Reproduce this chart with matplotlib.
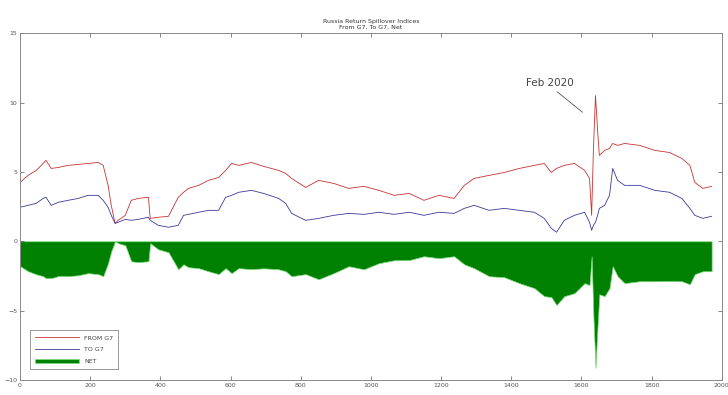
import numpy as np
import matplotlib
matplotlib.use("Agg")
import matplotlib.pyplot as plt

obs = [0, 23, 46, 66, 74, 89, 109, 137, 166, 194, 223, 237, 251, 260, 271, 280,
       300, 317, 337, 366, 371, 394, 423, 451, 466, 480, 509, 537, 566, 586, 603,
       623, 660, 694, 737, 757, 774, 814, 851, 894, 937, 980, 1023, 1066, 1109,
       1151, 1194, 1237, 1266, 1294, 1337, 1380, 1423, 1466, 1494, 1514, 1529,
       1551, 1580, 1609, 1623, 1629, 1634, 1640, 1646, 1651, 1666, 1680, 1689,
       1703, 1723, 1766, 1809, 1851, 1886, 1909, 1923, 1946, 1971]

from_g7 = [4.24, 4.75, 5.11, 5.61, 5.83, 5.25, 5.32, 5.47, 5.54, 5.61, 5.68, 5.47,
           4.03, 2.59, 1.29, 1.51, 1.87, 2.95, 3.09, 3.17, 1.65, 1.73, 1.80, 3.17,
           3.53, 3.81, 4.03, 4.39, 4.60, 5.11, 5.61, 5.47, 5.68, 5.40, 5.11, 4.89,
           4.53, 3.88, 4.39, 4.17, 3.81, 3.96, 3.67, 3.31, 3.45, 2.95, 3.31, 3.09,
           4.03, 4.53, 4.75, 4.96, 5.25, 5.47, 5.61, 4.96, 5.25, 5.47, 5.61, 5.11,
           4.53, 1.87, 6.55, 10.5, 7.99, 6.19, 6.55, 6.69, 7.05, 6.91, 7.05, 6.91,
           6.55, 6.40, 5.97, 5.47, 4.24, 3.81, 3.96]

to_g7 = [2.45, 2.59, 2.73, 3.09, 3.17, 2.59, 2.81, 2.95, 3.09, 3.31, 3.31, 2.95,
         2.45, 1.87, 1.29, 1.37, 1.58, 1.51, 1.58, 1.73, 1.51, 1.15, 1.01, 1.15,
         1.87, 1.94, 2.09, 2.23, 2.23, 3.17, 3.31, 3.53, 3.67, 3.45, 3.09, 2.73,
         2.01, 1.51, 1.65, 1.87, 2.01, 1.94, 2.09, 1.94, 2.09, 1.87, 2.09, 2.01,
         2.37, 2.59, 2.23, 2.37, 2.23, 2.09, 1.65, 0.94, 0.65, 1.51, 1.87, 2.09,
         1.37, 0.79, 1.15, 1.37, 1.87, 2.37, 2.59, 3.31, 5.25, 4.39, 4.03, 4.03,
         3.67, 3.53, 3.09, 2.37, 1.87, 1.65, 1.80]

x = np.array(obs)
fr = np.array(from_g7)
to = np.array(to_g7)
net = to - fr

fig = plt.figure(figsize=(7.28, 3.95), dpi=100)
ax = fig.add_axes([0.0275, 0.038, 0.964, 0.878])

h_from, = ax.plot(x, fr, color="#c83232", lw=0.6, label="FROM G7", zorder=2)
h_to, = ax.plot(x, to, color="#3a3a9a", lw=0.6, label="TO G7", zorder=2)
h_net = ax.fill_between(x, net, 0, facecolor=(0, 0.5, 0), edgecolor="#7ddc7d",
                        linewidth=0.5, label="NET", zorder=1)

ax.set_xlim(0, 2000)
ax.set_ylim(-10, 15)
ax.set_xticks(np.arange(0, 2001, 200))
ax.set_yticks(np.arange(-10, 16, 5))
ax.tick_params(direction="in", labelsize=4.5, length=3, width=0.5,
               colors="#555555", top=True, right=True, pad=2)
for s in ax.spines.values():
    s.set_color("#888888")
    s.set_linewidth(0.7)

ax.set_title("Russia Return Spillover Indices\nFrom G7, To G7, Net",
             fontsize=4.5, color="#333333", pad=3, linespacing=1.3)

ax.annotate("Feb 2020", xy=(1603, 9.3), xytext=(1443, 11.4),
            fontsize=7.5, color="#444444", va="center",
            arrowprops=dict(arrowstyle="-", color="#555555", lw=0.6,
                            shrinkA=1, shrinkB=0, relpos=(0.55, 0.0)))

leg = ax.legend(handles=[h_from, h_to, h_net], loc="lower left",
                bbox_to_anchor=(0.01, 0.023), fontsize=4.5,
                fancybox=False, framealpha=1, edgecolor="#888888",
                handlelength=7, borderpad=0.8, labelspacing=1.0)
leg.get_frame().set_linewidth(0.6)
for t in leg.get_texts():
    t.set_color("#444444")

fig.savefig("out.png", dpi=100)
